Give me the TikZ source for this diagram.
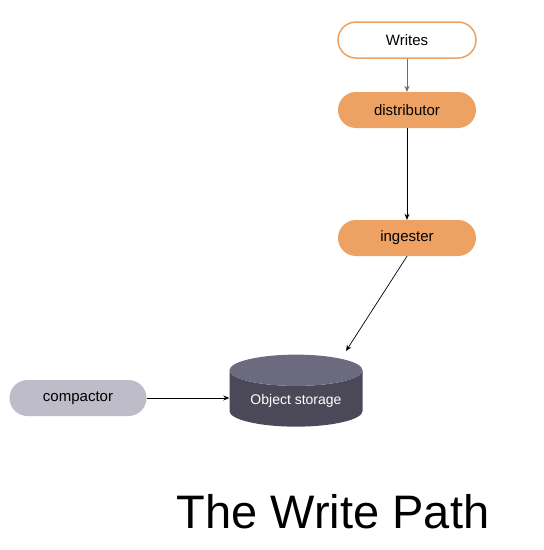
\documentclass[tikz,border=0pt]{standalone}
\usepackage{fontspec}
\setmainfont{Liberation Sans}
\usetikzlibrary{shapes.geometric,arrows.meta}
\definecolor{tempoorange}{HTML}{EDA263}
\definecolor{tempogray}{HTML}{BDBCC8}
\definecolor{storebody}{HTML}{4B4958}
\definecolor{storetop}{HTML}{6C6A7E}
\definecolor{arrowgray}{HTML}{6B6B7B}
\tikzset{
  pill/.style={rounded corners=18pt, minimum width=138pt, minimum height=36pt, font=\fontsize{15}{17}\selectfont},
  comp/.style={pill, fill=tempoorange},
  flow/.style={-{Stealth[length=6pt,width=5pt]}, line width=0.7pt}
}
\begin{document}
\begin{tikzpicture}[x=1pt, y=-1pt]
  \useasboundingbox[fill=white] (0,0) rectangle (544,550);

  \node[pill, draw=tempoorange, line width=1.5pt, fill=white] (writes) at (407,40) {Writes};
  \node[comp] (distributor) at (407,110) {distributor};
  \node[comp] (ingester) at (407,238) {ingester};
  \node[pill, fill=tempogray, minimum width=137pt] (compactor) at (78,398) {compactor};
  \node[cylinder, shape border rotate=90, aspect=0.32, minimum width=133pt, minimum height=72pt,
        cylinder uses custom fill, cylinder body fill=storebody, cylinder end fill=storetop,
        text=white, font=\fontsize{14}{16}\selectfont] (store) at (296,401) {Object storage};
  \coordinate (storetip) at (346,351);

  \draw[flow, draw=arrowgray] (writes) -- (distributor);
  \draw[flow] (distributor) -- (ingester);
  \draw[flow] (ingester.south) -- (storetip);
  \draw[flow] (compactor.east) -- (compactor.east -| store.west);

  \node[font=\fontsize{47}{50}\selectfont] (title) at (333,512) {The Write Path};
\end{tikzpicture}
\end{document}
